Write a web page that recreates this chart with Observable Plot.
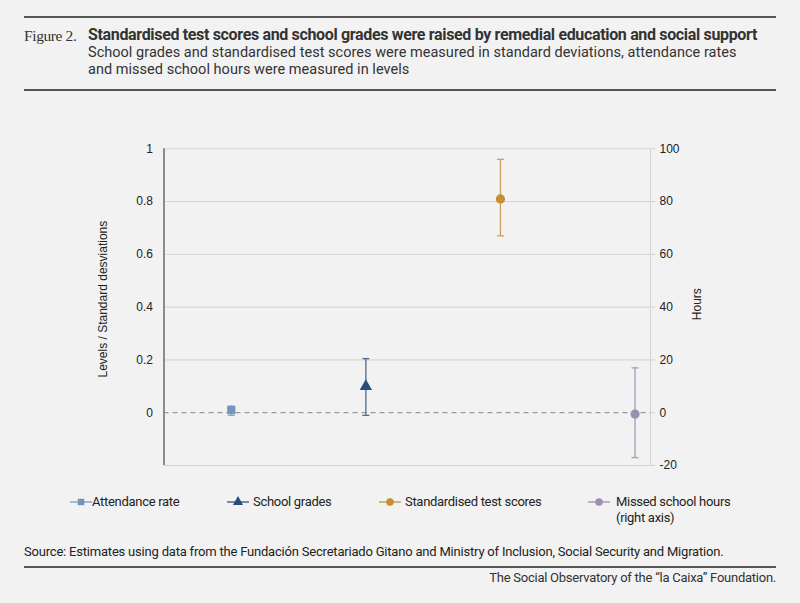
<!DOCTYPE html>
<html>
<head>
<meta charset="utf-8">
<script src="https://cdn.jsdelivr.net/npm/d3@7"></script>
<script src="https://cdn.jsdelivr.net/npm/@observablehq/plot@0.6"></script>
<style>
  html, body { margin: 0; padding: 0; background: #f2f2f2; }
  #page { position: relative; width: 800px; height: 603px; background: #f2f2f2; overflow: hidden; font-family: Roboto, "Liberation Sans", sans-serif; color: #333; }
  .rule { position: absolute; left: 24px; width: 752px; height: 2px; background: #555; }
  .abs { position: absolute; white-space: nowrap; }
  #fig { left: 24px; top: 27px; font-family: "Liberation Serif", serif; font-size: 15.5px; letter-spacing: -0.4px; color: #333; }
  #title { left: 88px; top: 25px; font-size: 16px; font-weight: bold; letter-spacing: -0.34px; color: #333; }
  #subtitle { left: 88px; top: 44px; font-size: 14.5px; line-height: 17px; letter-spacing: 0.03px; color: #333; }
  #chart { position: absolute; left: 0; top: 110px; }
  .leg { position: absolute; top: 494px; font-size: 13px; line-height: 16px; letter-spacing: -0.3px; color: #222; }
  .sw { position: absolute; top: 494px; }
  #source { left: 24px; top: 544px; font-size: 13px; letter-spacing: -0.2px; color: #222; }
  #footer { right: 24px; top: 570px; font-size: 13px; letter-spacing: -0.25px; color: #333; }
</style>
</head>
<body>
<div id="page">
  <div class="rule" style="top:16px"></div>
  <div id="fig" class="abs">Figure 2.</div>
  <div id="title" class="abs">Standardised test scores and school grades were raised by remedial education and social support</div>
  <div id="subtitle" class="abs">School grades and standardised test scores were measured in standard deviations, attendance rates<br>and missed school hours were measured in levels</div>
  <div class="rule" style="top:89px"></div>
  <div id="chart"></div>
  <div id="legend"></div>
  <div id="source" class="abs">Source: Estimates using data from the Fundación Secretariado Gitano and Ministry of Inclusion, Social Security and Migration.</div>
  <div class="rule" style="top:566px"></div>
  <div id="footer" class="abs">The Social Observatory of the “la Caixa” Foundation.</div>
</div>
<script>
// ---- data ----
const categories = ["Attendance rate", "School grades", "Standardised test scores", "Missed school hours"];
const legendLabels = ["Attendance rate", "School grades", "Standardised test scores", "Missed school hours<br>(right axis)"];
const estimates = [0.01, 0.10, 0.81, -0.5];
const lower     = [-0.01, -0.01, 0.67, -17];
const upper     = [0.025, 0.205, 0.96, 17];
const unitScale = [1, 1, 1, 100];          // right-axis series is in hours (1 level = 100 hours)
const symbols   = ["square", "triangle", "circle", "circle"];
const colors    = ["#7393c0", "#284f7a", "#c48f2e", "#9d8fb1"];
const barColors = ["#8aa3c8", "#4f6a8e", "#c9a05a", "#a89cbb"];
const leftTicks  = [0, 0.2, 0.4, 0.6, 0.8, 1];
const rightTicks = [-20, 0, 20, 40, 60, 80, 100];
const gridTicks  = [-0.2, 0.2, 0.4, 0.6, 0.8, 1];
const yDomain = [-0.2, 1];
const xDomain = [0.5, 4.115];
const leftLabel = "Levels / Standard desviations";
const rightLabel = "Hours";

const data = categories.map((c, i) => ({
  cat: c, i: i + 1,
  est: estimates[i] / unitScale[i],
  lo: lower[i] / unitScale[i],
  hi: upper[i] / unitScale[i],
  color: colors[i], bar: barColors[i], symbol: symbols[i]
}));

const capSymbol = {
  draw(context, size) {
    const r = Math.sqrt(size / Math.PI);
    context.moveTo(-r, 0);
    context.lineTo(r, 0);
  }
};

const W = 800, H = 380;
const chart = Plot.plot({
  width: W, height: H,
  marginLeft: 163.5, marginRight: 150, marginTop: 38.3, marginBottom: 25,
  style: { background: "transparent", fontFamily: "'Liberation Sans', Arial, sans-serif", fontSize: "12px", color: "#222" },
  x: { type: "linear", domain: xDomain, axis: null },
  y: { domain: yDomain, axis: null },
  marks: [
    Plot.ruleY(gridTicks, { stroke: "#d3d3d3", strokeWidth: 1 }),
    Plot.ruleY([0], { stroke: "#9a9a9a", strokeWidth: 1.3, strokeDasharray: "5,4" }),
    Plot.ruleX([xDomain[1]], { stroke: "#d3d3d3", strokeWidth: 1 }),
    Plot.ruleX([xDomain[0]], { stroke: "#8c8c8c", strokeWidth: 2 }),
    Plot.axisY({ anchor: "left", ticks: leftTicks, tickSize: 0, tickPadding: 11,
      tickFormat: d => String(+d.toFixed(1)), fontSize: 12, label: null }),
    Plot.axisY({ anchor: "right", ticks: rightTicks.map(t => t / 100), tickSize: 4, stroke: "#cfcfcf", tickPadding: 5,
      tickFormat: d => String(Math.round(d * 100)), fontSize: 12, label: null }),
    Plot.text([leftLabel], { text: d => d, frameAnchor: "left", textAnchor: "middle", rotate: -90, dx: -61, dy: -8, fontSize: 12, fill: "#222" }),
    Plot.text([rightLabel], { text: d => d, frameAnchor: "right", textAnchor: "middle", rotate: -90, dx: 47, dy: -3, fontSize: 12, fill: "#222" }),
    Plot.ruleX(data, { x: "i", y1: "lo", y2: "hi", stroke: "bar", strokeWidth: 1.3 }),
    Plot.dot(data, { x: "i", y: "lo", symbol: capSymbol, r: 3.5, stroke: "bar", strokeWidth: 1.3, fill: "none" }),
    Plot.dot(data, { x: "i", y: "hi", symbol: capSymbol, r: 3.5, stroke: "bar", strokeWidth: 1.3, fill: "none" }),
    Plot.dot(data, { x: "i", y: "est", symbol: "symbol", fill: "color", stroke: "none", r: 4.6 })
  ]
});
document.getElementById("chart").appendChild(chart);

// ---- legend ----
const legendX = [70, 227, 379, 588];
const legendTextX = [92, 253, 405, 616];
const legend = document.getElementById("legend");
categories.forEach((c, i) => {
  const sw = document.createElement("div");
  sw.className = "sw";
  sw.style.left = legendX[i] + "px";
  const svg = d3.create("svg").attr("width", 22).attr("height", 16);
  svg.append("line").attr("x1", 0).attr("x2", 22).attr("y1", 8).attr("y2", 8)
    .attr("stroke", barColors[i]).attr("stroke-width", 1.5);
  const sym = { square: d3.symbolSquare, triangle: d3.symbolTriangle, circle: d3.symbolCircle }[symbols[i]];
  svg.append("path").attr("d", d3.symbol(sym, symbols[i] === "square" ? 42 : 45)())
    .attr("transform", "translate(11,8)").attr("fill", colors[i]);
  sw.appendChild(svg.node());
  legend.appendChild(sw);
  const t = document.createElement("div");
  t.className = "leg";
  t.style.left = legendTextX[i] + "px";
  t.innerHTML = legendLabels[i];
  legend.appendChild(t);
});
</script>
</body>
</html>
